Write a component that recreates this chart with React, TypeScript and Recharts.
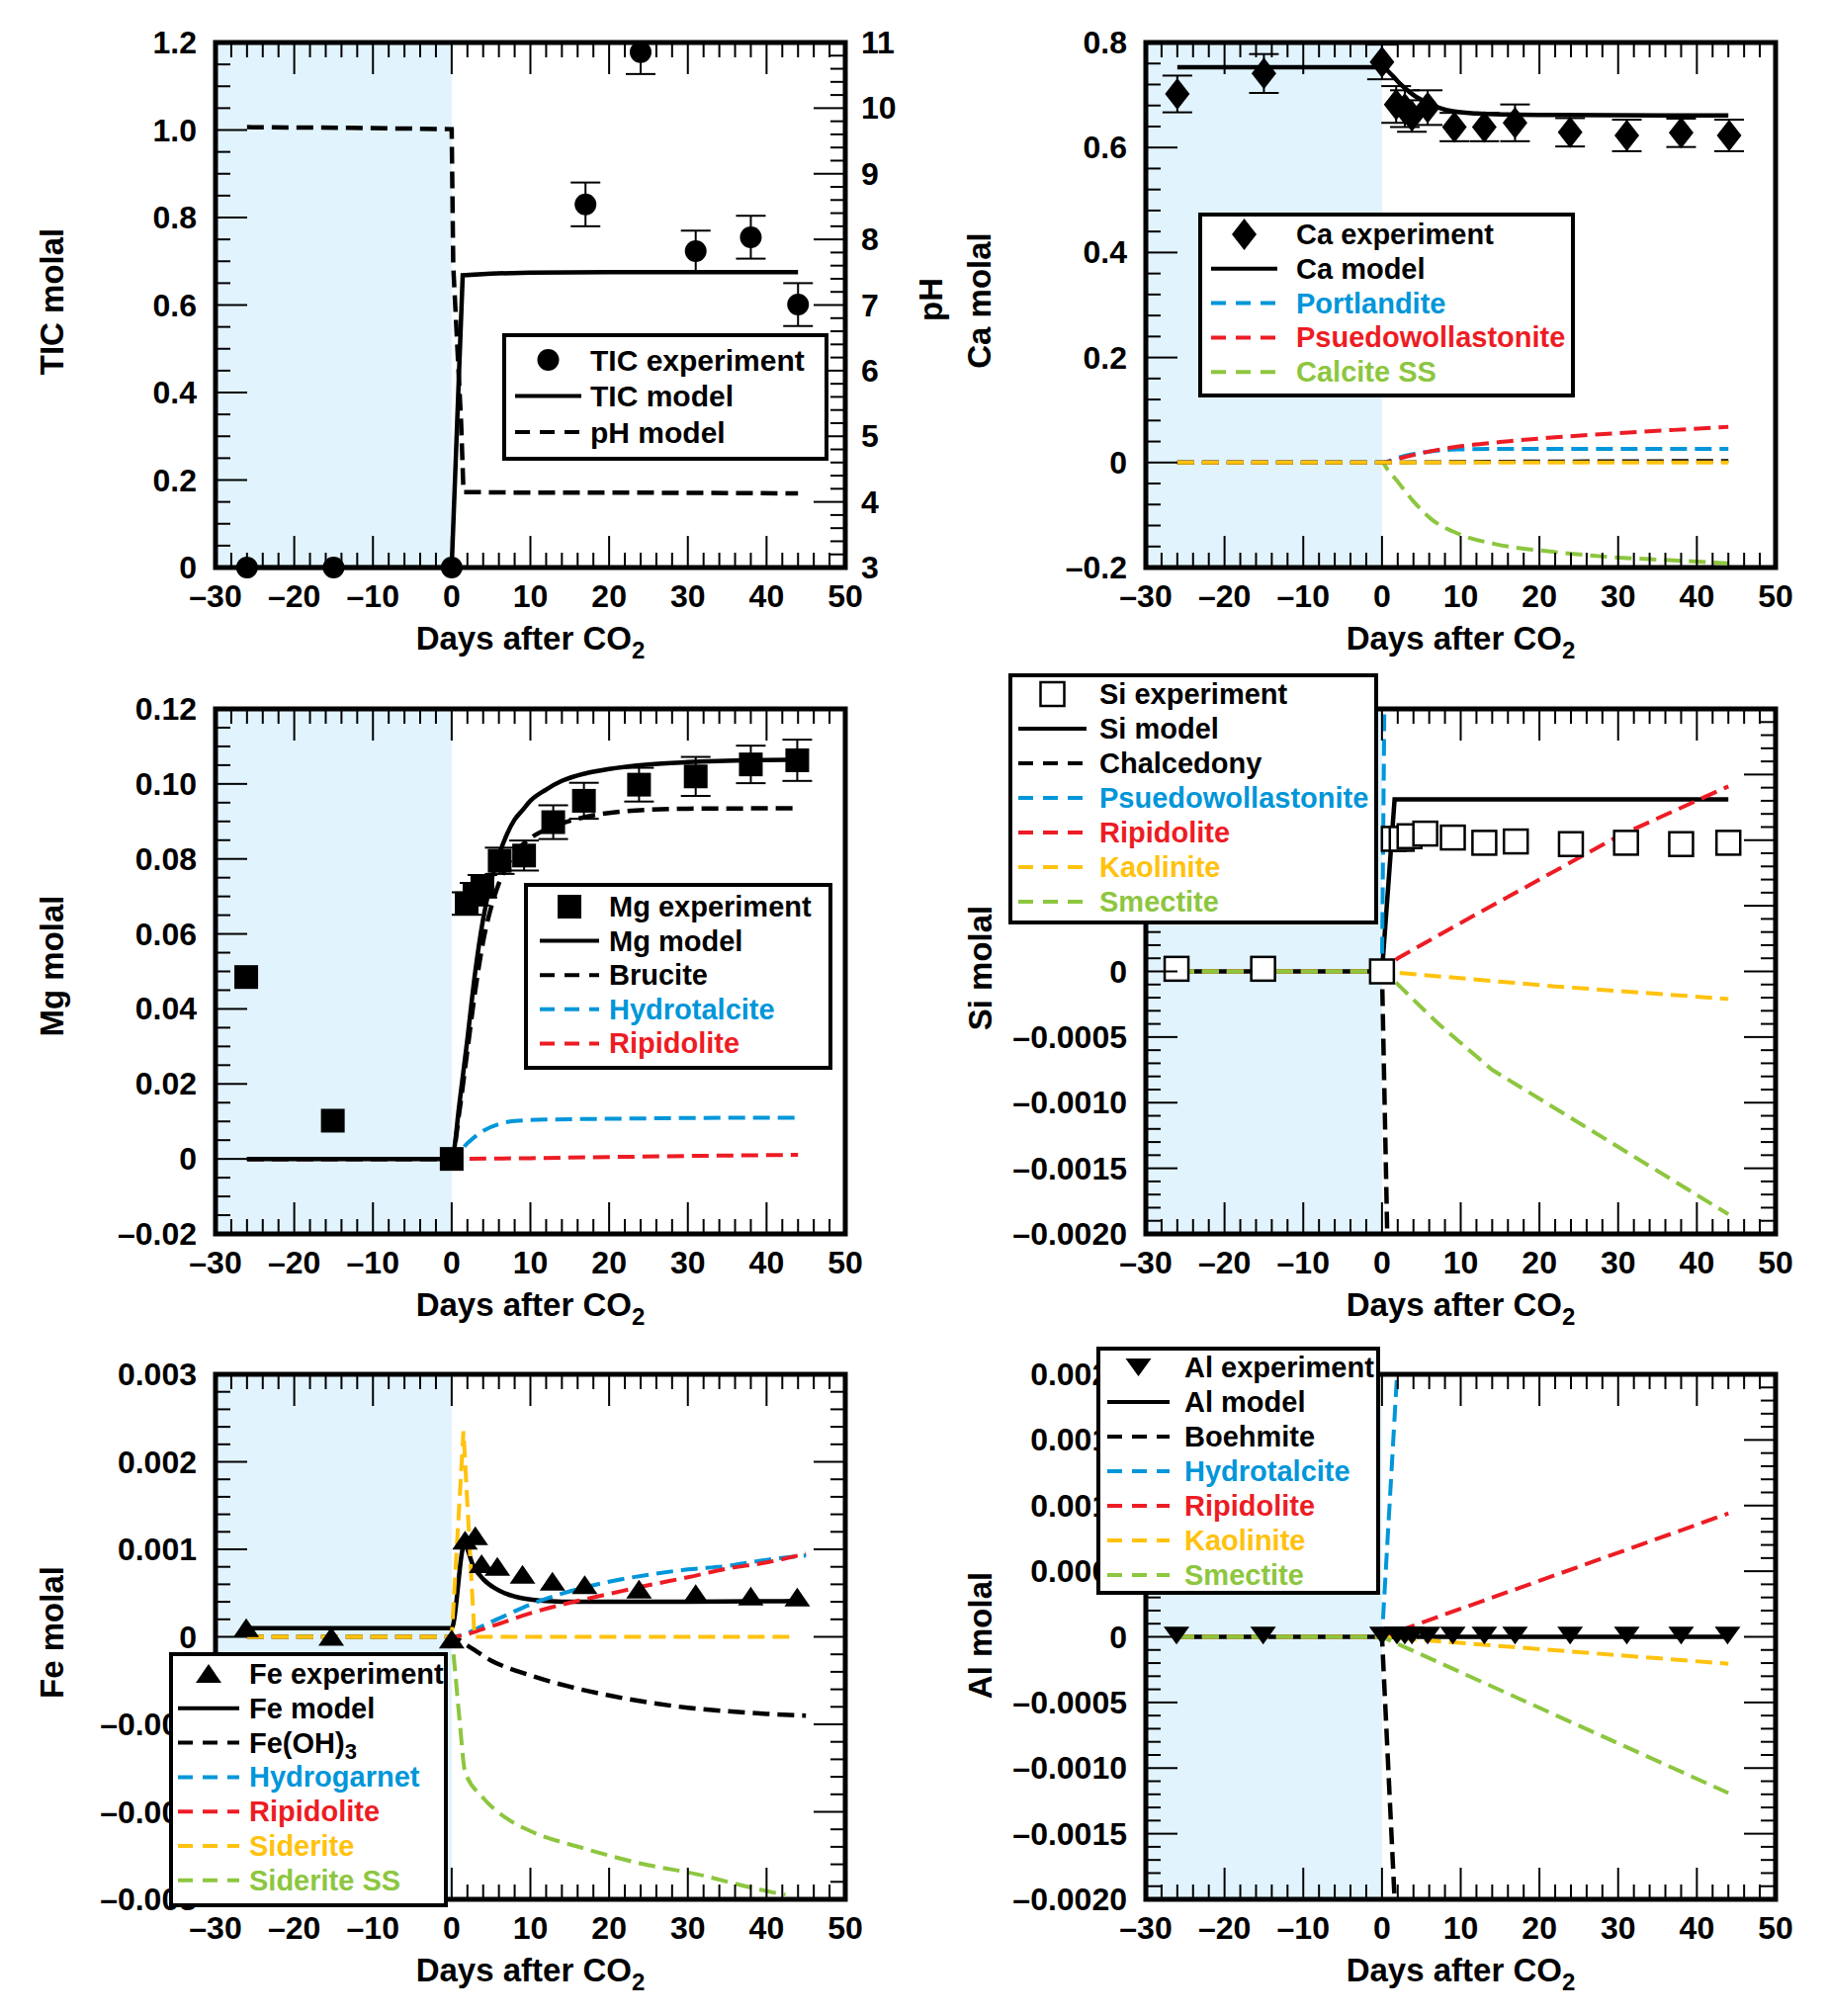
import React from "react";
import { ComposedChart, Line, Scatter, XAxis, YAxis, ReferenceArea, ErrorBar } from "recharts";

const FONT = '"Liberation Sans", Arial, Helvetica, sans-serif';
const BLUE = "#0096d9";
const RED = "#ed1c24";
const YELLOW = "#ffc20e";
const GREEN = "#8dc63f";
const SHADE = "#e1f3fc";

type Pt = { x: number; y: number };
type XP = { x: number; y: number; e: number | number[] };
const pts = (a: number[][]): Pt[] => a.map(([x, y]) => ({ x, y }));
const xps = (a: any[][]): XP[] => a.map(([x, y, e]) => ({ x, y, e }));

// ---- x axis (days after CO2) ----
const dayMajor = [-30, -20, -10, 0, 10, 20, 30, 40, 50];
const dayLabels = ["–30", "–20", "–10", "0", "10", "20", "30", "40", "50"];

// ---- TIC / pH ----
const ticMajor = [0, 0.2, 0.4, 0.6, 0.8, 1.0, 1.2];
const ticLabels = ["0", "0.2", "0.4", "0.6", "0.8", "1.0", "1.2"];
const phMajor = [3, 4, 5, 6, 7, 8, 9, 10, 11];
const phLabels = ["3", "4", "5", "6", "7", "8", "9", "10", "11"];
const ticExp = xps([
  [-26, 0, 0], [-15, 0, 0], [0, 0, 0], [17, 0.83, 0.05], [24, 1.178, [0.05, 0.022]],
  [31, 0.723, 0.047], [38, 0.755, 0.049], [44, 0.601, 0.049],
]);
const ticModel = pts([[-26, 0], [0, 0], [1.4, 0.668], [5, 0.672], [10, 0.674], [20, 0.675], [44, 0.675]]);
const phModel = pts([[-26, 9.71], [-13, 9.7], [0, 9.68], [0.2, 7.6], [1.2, 5.2], [1.5, 4.15], [10, 4.14], [25, 4.14], [44, 4.13]]);

// ---- Ca ----
const caMajor = [-0.2, 0, 0.2, 0.4, 0.6, 0.8];
const caLabels = ["–0.2", "0", "0.2", "0.4", "0.6", "0.8"];
const caExp = xps([
  [-26, 0.702, 0.035], [-15, 0.741, 0.037], [0, 0.763, 0.033], [1.8, 0.682, 0.035], [2.9, 0.674, 0.035],
  [3.8, 0.66, 0.03], [5.8, 0.676, 0.033], [9.2, 0.639, 0.027], [13, 0.639, 0.027], [16.9, 0.647, 0.035],
  [23.9, 0.629, 0.027], [31.1, 0.623, 0.03], [38, 0.628, 0.027], [44.1, 0.623, 0.03],
]);
const caModel = pts([[-26, 0.753], [0, 0.753], [1, 0.742], [2, 0.726], [3, 0.712], [4, 0.7], [5.5, 0.687], [7, 0.677], [9, 0.669], [12, 0.665], [16, 0.663], [22, 0.662], [44, 0.661]]);
const caPortlandite = pts([[-26, 0], [0, 0], [2, 0.009], [4, 0.016], [6, 0.021], [8, 0.024], [10, 0.025], [15, 0.026], [44, 0.026]]);
const caPsuedo = pts([[-26, 0], [0, 0], [3, 0.011], [6, 0.021], [10, 0.031], [15, 0.039], [22, 0.048], [30, 0.056], [37, 0.062], [44, 0.068]]);
const caCalciteSS = pts([[-26, 0], [0, 0], [0.7, -0.013], [1.8, -0.033], [4, -0.074], [6.2, -0.107], [9.9, -0.137], [14.3, -0.155], [21.7, -0.17], [29, -0.18], [36.5, -0.186], [44, -0.192]]);
const caBlack = pts([[-26, 0], [0, 0], [20, 0.002], [44, 0.003]]);
const caYellow = pts([[-26, 0], [0, 0], [44, 0]]);

// ---- Mg ----
const mgMajor = [-0.02, 0, 0.02, 0.04, 0.06, 0.08, 0.1, 0.12];
const mgLabels = ["–0.02", "0", "0.02", "0.04", "0.06", "0.08", "0.10", "0.12"];
const mgExp = xps([
  [-26.1, 0.0485, 0], [-15.1, 0.0102, 0], [0, 0, 0], [1.9, 0.0681, 0.003], [2.9, 0.0706, 0.003],
  [3.9, 0.0727, 0.003], [6.1, 0.0795, 0.0035], [9.2, 0.0809, 0.004], [12.9, 0.0898, 0.0045],
  [16.8, 0.0955, 0.0048], [23.8, 0.0998, 0.0045], [31, 0.102, 0.0052], [38, 0.1052, 0.005], [43.9, 0.1063, 0.0055],
]);
const mgModel = pts([[-26, 0], [0, 0], [1, 0.015], [2, 0.032], [3, 0.05], [4, 0.064], [5, 0.074], [6, 0.081], [7, 0.0865], [8, 0.0905], [9, 0.093], [10, 0.0955], [12, 0.0985], [14, 0.1008], [17, 0.1028], [20, 0.104], [25, 0.1052], [30, 0.1058], [44, 0.1065]]);
const mgBrucite = pts([[-26, 0], [0, 0], [1, 0.013], [2, 0.029], [3, 0.045], [4, 0.058], [5, 0.067], [6, 0.0735], [7, 0.078], [8, 0.0815], [10, 0.0855], [13, 0.0887], [17, 0.0912], [22, 0.0927], [30, 0.0934], [44, 0.0935]]);
const mgHydrotalcite = pts([[-26, 0], [0, 0], [2, 0.0042], [4, 0.0075], [6, 0.0093], [8, 0.0101], [12, 0.0105], [20, 0.0107], [30, 0.0109], [44, 0.011]]);
const mgRipidolite = pts([[-26, 0], [0, 0], [10, 0.0002], [20, 0.0005], [30, 0.0008], [44, 0.0011]]);

// ---- Si ----
const siMajor = [-0.002, -0.0015, -0.001, -0.0005, 0, 0.0005, 0.001, 0.0015, 0.002];
// the positive labels sit fully under the legend box in the original, so only the visible ones are written
const siLabels = ["–0.0020", "–0.0015", "–0.0010", "–0.0005", "0", "", "", "", ""];
const siExp = xps([
  [-26.1, 0.00002, 0], [-15.1, 0.00002, 0], [0, 0, 0], [1.5, 0.00101, 0], [2.5, 0.00101, 0], [3.5, 0.00103, 0],
  [5.5, 0.00105, 0], [9, 0.00102, 0], [13, 0.00098, 0], [17, 0.00099, 0], [24, 0.00097, 0], [31, 0.00098, 0],
  [38, 0.00097, 0], [44, 0.00098, 0],
]);
const siModel = pts([[-26, 0], [0, 0], [1.6, 0.00131], [44, 0.00131]]);
const siChalcedony = pts([[-26, 0], [0, 0], [1, -0.003]]);
const siPsuedo = pts([[-26, 0], [0, 0], [0.45, 0.003]]);
const siRipidolite = pts([[-26, 0], [0, 0], [2, 0.0001], [10, 0.00037], [20, 0.0007], [30, 0.00103], [44, 0.00141]]);
const siKaolinite = pts([[-26, 0], [0, 0], [22, -0.000114], [44, -0.00021]]);
const siSmectite = pts([[-26, 0], [0, 0], [1, -0.00004], [7, -0.00039], [14, -0.00075], [44, -0.00185]]);

// ---- Fe ----
const feMajor = [-0.003, -0.002, -0.001, 0, 0.001, 0.002, 0.003];
const feLabels = ["–0.003", "–0.002", "–0.001", "0", "0.001", "0.002", "0.003"];
const feExp = xps([
  [-26.1, 0.0001, 0], [-15.3, 0, 0], [0, -0.00003, 0], [1.7, 0.0011, 0], [3, 0.00115, 0], [3.8, 0.00083, 0],
  [5.8, 0.0008, 0], [9, 0.00071, 0], [12.8, 0.00063, 0], [16.9, 0.00059, 0], [23.8, 0.00054, 0], [31, 0.00049, 0],
  [38, 0.00046, 0], [43.9, 0.00045, 0],
]);
const feModel = pts([[-26, 0.0001], [0, 0.0001], [1.6, 0.00105], [2.8, 0.0008], [4, 0.00066], [5.4, 0.00056], [7, 0.00049], [9, 0.00044], [12, 0.00041], [16, 0.0004], [30, 0.0004], [44, 0.00041]]);
const feOH3 = pts([[-26, 0], [0, 0], [2, -0.0001], [5, -0.00027], [10, -0.00044], [15, -0.00057], [20, -0.00067], [25, -0.00075], [30, -0.00081], [35, -0.00085], [40, -0.00088], [45, -0.0009]]);
const feHydrogarnet = pts([[-26, 0], [0, 0], [5, 0.00017], [10, 0.00037], [15, 0.00052], [20, 0.00063], [25, 0.00071], [30, 0.00077], [35, 0.00081], [40, 0.00088], [45, 0.00093]]);
const feRipidolite = pts([[-26, 0], [0, 0], [5, 0.00012], [10, 0.00027], [15, 0.00039], [20, 0.00049], [25, 0.00059], [30, 0.00068], [35, 0.00078], [40, 0.00085], [45, 0.00095]]);
const feSiderite = pts([[-26, 0], [0, 0], [1.5, 0.00235], [2.9, 0], [43, 0]]);
const feSideriteSS = pts([[-26, 0], [0, 0], [0.2, -0.00017], [1, -0.00095], [1.7, -0.00154], [3.9, -0.00183], [6.9, -0.00207], [10, -0.00222], [16.5, -0.00241], [24, -0.00259], [31, -0.00271], [38.7, -0.00288], [42.4, -0.00295]]);

// ---- Al ----
const alMajor = [-0.002, -0.0015, -0.001, -0.0005, 0, 0.0005, 0.001, 0.0015, 0.002];
const alLabels = ["–0.0020", "–0.0015", "–0.0010", "–0.0005", "0", "0.0005", "0.0010", "0.0015", "0.0020"];
const alExp = xps([
  [-26.1, 0.00001, 0], [-15.1, 0.00001, 0], [0, 0.00001, 0], [1.9, 0.00001, 0], [2.9, 0.00001, 0], [3.8, 0.00001, 0],
  [5.8, 0.00001, 0], [9, 0.00001, 0], [13, 0.00001, 0], [16.9, 0.00001, 0], [23.9, 0.00001, 0], [31.1, 0.00001, 0],
  [38, 0.00001, 0], [43.9, 0.00001, 0],
]);
const alModel = pts([[-26, 0], [44, 0]]);
const alBoehmite = pts([[-26, 0], [0, 0], [2, -0.0025]]);
const alHydrotalcite = pts([[-26, 0], [0, 0], [2.2, 0.0023]]);
const alRipidolite = pts([[-26, 0], [0, 0], [44, 0.00094]]);
const alKaolinite = pts([[-26, 0], [0, 0], [44, -0.000205]]);
const alSmectite = pts([[-26, 0], [0, 0], [44, -0.00119]]);

// ---------------------------------------------------------------
const PW = 637, PH = 531;
// plot area sits 180px from the chart's left edge and 40px from its top (1px axis + margin)
const ML = 179, MT = 39, MR = 79, MB = 109;
const OFF_L = 180, OFF_T = 40;
const CW = PW + 180 + 80, CH = PH + 40 + 110;
const DASH = "17 8";

function steps(from: number, to: number, step: number) {
  const n = Math.round((to - from) / step);
  return Array.from({ length: n + 1 }, (_, i) => Number((from + i * step).toFixed(8)));
}
const dayTicks = steps(-30, 50, 2);

type Side = "left" | "right" | "top" | "bottom";
function tickRenderer(side: Side, major: number[], labels: string[] | null) {
  return (p: any) => {
    const v = Number(p.payload?.value);
    const idx = major.findIndex((m) => Math.abs(m - v) < 1e-9);
    const big = idx >= 0;
    const { x, y } = p;
    const len = big ? 32 : 15;
    let x2 = x, y2 = y, tx = x, ty = y, anchor = "middle";
    if (side === "left") { x2 = x + len; tx = x - 19; anchor = "end"; }
    if (side === "right") { x2 = x - len; tx = x + 16; anchor = "start"; }
    if (side === "bottom") { y2 = y - len; ty = y + 29; }
    if (side === "top") { y2 = y + len; }
    const lab = big && labels && labels[idx] ? labels[idx] : null;
    return (
      <g>
        <line x1={x} y1={y} x2={x2} y2={y2} stroke="#000" strokeWidth={2} />
        {lab !== null && (
          <text x={tx} y={ty} textAnchor={anchor} dominantBaseline="central" fontFamily={FONT} fontWeight={700} fontSize={32} fill="#000">
            {lab}
          </text>
        )}
      </g>
    );
  };
}

type MarkerKind = "circle" | "diamond" | "square" | "openSquare" | "triangle" | "triangleDown";
function drawMarker(kind: MarkerKind, cx: number, cy: number) {
  switch (kind) {
    case "circle":
      return <circle cx={cx} cy={cy} r={11} fill="#000" />;
    case "diamond":
      return <path d={`M${cx},${cy - 16}L${cx + 12.5},${cy}L${cx},${cy + 16}L${cx - 12.5},${cy}Z`} fill="#000" />;
    case "square":
      return <rect x={cx - 12} y={cy - 12} width={24} height={24} fill="#000" />;
    case "openSquare":
      return <rect x={cx - 12} y={cy - 12} width={24} height={24} fill="#fff" stroke="#000" strokeWidth={2.5} />;
    case "triangle":
      return <path d={`M${cx},${cy - 10}L${cx + 13},${cy + 9}L${cx - 13},${cy + 9}Z`} fill="#000" />;
    default:
      return <path d={`M${cx - 13},${cy - 9}L${cx + 13},${cy - 9}L${cx},${cy + 9}Z`} fill="#000" />;
  }
}

type AxisCfg = { domain: [number, number]; major: number[]; labels: string[] | null; minor: number };
type LineCfg = { data: Pt[]; color: string; dash?: boolean; w?: number; curve?: "linear" | "monotone"; right?: boolean };
type PanelCfg = {
  left: number; top: number; y: AxisCfg; y2?: AxisCfg; clip: boolean;
  lines: LineCfg[]; exp: XP[]; marker: MarkerKind; err: boolean;
};

function Panel({ c }: { c: PanelCfg }) {
  const y2 = c.y2 ?? { ...c.y, labels: null };
  const yTicks = steps(c.y.domain[0], c.y.domain[1], c.y.minor);
  const y2Ticks = steps(y2.domain[0], y2.domain[1], y2.minor);
  return (
    <div style={{ position: "absolute", left: c.left - OFF_L, top: c.top - OFF_T }}>
      <ComposedChart width={CW} height={CH} margin={{ top: MT, right: MR, bottom: MB, left: ML }}>
        <ReferenceArea xAxisId="b" yAxisId="l" x1={-30} x2={0} y1={c.y.domain[0]} y2={c.y.domain[1]} fill={SHADE} fillOpacity={1} stroke="none" ifOverflow="visible" />
        <XAxis xAxisId="b" type="number" dataKey="x" domain={[-30, 50]} allowDataOverflow ticks={dayTicks} interval={0}
          height={1} tickSize={0} tickMargin={0} axisLine={false} tickLine={false} tick={tickRenderer("bottom", dayMajor, dayLabels)} />
        <XAxis xAxisId="t" orientation="top" type="number" dataKey="x" domain={[-30, 50]} allowDataOverflow ticks={dayTicks} interval={0}
          height={1} tickSize={0} tickMargin={0} axisLine={false} tickLine={false} tick={tickRenderer("top", dayMajor, null)} />
        <YAxis yAxisId="l" type="number" domain={c.y.domain} allowDataOverflow={c.clip} ticks={yTicks} interval={0}
          width={1} tickSize={0} tickMargin={0} axisLine={false} tickLine={false} tick={tickRenderer("left", c.y.major, c.y.labels)} />
        <YAxis yAxisId="r" orientation="right" type="number" domain={y2.domain} allowDataOverflow={c.clip} ticks={y2Ticks} interval={0}
          width={1} tickSize={0} tickMargin={0} axisLine={false} tickLine={false} tick={tickRenderer("right", y2.major, y2.labels)} />
        {c.lines.map((l, i) => (
          <Line key={i} data={l.data} dataKey="y" xAxisId="b" yAxisId={l.right ? "r" : "l"} type={l.curve ?? "linear"}
            stroke={l.color} strokeWidth={l.w ?? 4} strokeDasharray={l.dash ? DASH : undefined}
            dot={false} activeDot={false} isAnimationActive={false} />
        ))}
        <Scatter data={c.exp} dataKey="y" xAxisId="b" yAxisId="l" isAnimationActive={false}
          shape={(p: any) => drawMarker(c.marker, p.cx, p.cy)}>
          {c.err && <ErrorBar dataKey="e" direction="y" width={15} stroke="#000" strokeWidth={2} />}
        </Scatter>
        <ReferenceArea xAxisId="b" yAxisId="l" x1={-30} x2={50} y1={c.y.domain[0]} y2={c.y.domain[1]} fill="none" stroke="#000" strokeWidth={5} ifOverflow="visible" />
      </ComposedChart>
    </div>
  );
}

type LegItem = { label: React.ReactNode; kind: "mark" | "solid" | "dash"; color: string };
type LegBox = { x: number; y: number; w: number; h: number; r0: number; gap: number; l1: number; l2: number; tx: number; fs: number };

function LegendBox({ b, items, marker }: { b: LegBox; items: LegItem[]; marker: MarkerKind }) {
  return (
    <svg style={{ position: "absolute", left: b.x, top: b.y }} width={b.w} height={b.h}>
      <rect x={2} y={2} width={b.w - 4} height={b.h - 4} fill="#fff" stroke="#000" strokeWidth={4} />
      {items.map((it, i) => {
        const cy = b.r0 + i * b.gap;
        return (
          <g key={i}>
            {it.kind === "mark" ? (
              drawMarker(marker, (b.l1 + b.l2) / 2, cy)
            ) : (
              <line x1={b.l1} x2={b.l2} y1={cy} y2={cy} stroke={it.color} strokeWidth={4}
                strokeDasharray={it.kind === "dash" ? "15 10" : undefined} />
            )}
            <text x={b.tx} y={cy} dominantBaseline="central" fontFamily={FONT} fontWeight={700} fontSize={b.fs} fill={it.color}>
              {it.label}
            </text>
          </g>
        );
      })}
    </svg>
  );
}

function VTitle({ cx, cy, text }: { cx: number; cy: number; text: string }) {
  return (
    <div style={{
      position: "absolute", left: cx, top: cy, transform: "translate(-50%,-50%) rotate(-90deg)",
      whiteSpace: "nowrap", fontFamily: FONT, fontWeight: 700, fontSize: 33, lineHeight: 1,
    }}>{text}</div>
  );
}

function XTitle({ cx, cy }: { cx: number; cy: number }) {
  return (
    <div style={{
      position: "absolute", left: cx, top: cy, transform: "translate(-50%,-50%)",
      whiteSpace: "nowrap", fontFamily: FONT, fontWeight: 700, fontSize: 33, lineHeight: 1,
    }}>
      Days after CO<span style={{ fontSize: 24, position: "relative", top: 9 }}>2</span>
    </div>
  );
}

const LX = 218, RX = 1159;
const TOPS = [43, 717, 1390];

const panels: PanelCfg[] = [
  {
    left: LX, top: TOPS[0], clip: false, marker: "circle", err: true, exp: ticExp,
    y: { domain: [0, 1.2], major: ticMajor, labels: ticLabels, minor: 0.05 },
    y2: { domain: [3, 11], major: phMajor, labels: phLabels, minor: 0.2 },
    lines: [
      { data: ticModel, color: "#000", w: 4.5 },
      { data: phModel, color: "#000", w: 4.5, dash: true, right: true },
    ],
  },
  {
    left: RX, top: TOPS[0], clip: false, marker: "diamond", err: true, exp: caExp,
    y: { domain: [-0.2, 0.8], major: caMajor, labels: caLabels, minor: 0.04 },
    lines: [
      { data: caModel, color: "#000", w: 4.5, curve: "monotone" },
      { data: caCalciteSS, color: GREEN, dash: true, curve: "monotone" },
      { data: caPortlandite, color: BLUE, dash: true, curve: "monotone" },
      { data: caPsuedo, color: RED, dash: true, curve: "monotone" },
      { data: caBlack, color: "#000", dash: true },
      { data: caYellow, color: YELLOW, dash: true },
    ],
  },
  {
    left: LX, top: TOPS[1], clip: false, marker: "square", err: true, exp: mgExp,
    y: { domain: [-0.02, 0.12], major: mgMajor, labels: mgLabels, minor: 0.005 },
    lines: [
      { data: mgHydrotalcite, color: BLUE, dash: true, curve: "monotone" },
      { data: mgBrucite, color: "#000", w: 4.5, dash: true, curve: "monotone" },
      { data: mgRipidolite, color: RED, dash: true },
      { data: mgModel, color: "#000", w: 4.5, curve: "monotone" },
    ],
  },
  {
    left: RX, top: TOPS[1], clip: true, marker: "openSquare", err: false, exp: siExp,
    y: { domain: [-0.002, 0.002], major: siMajor, labels: siLabels, minor: 0.0001 },
    lines: [
      { data: siModel, color: "#000", w: 4.5 },
      { data: siChalcedony, color: "#000", w: 4.5, dash: true },
      { data: siPsuedo, color: BLUE, dash: true },
      { data: siRipidolite, color: RED, dash: true },
      { data: siKaolinite, color: YELLOW, dash: true },
      { data: siSmectite, color: GREEN, dash: true },
    ],
  },
  {
    left: LX, top: TOPS[2], clip: true, marker: "triangle", err: false, exp: feExp,
    y: { domain: [-0.003, 0.003], major: feMajor, labels: feLabels, minor: 0.0002 },
    lines: [
      { data: feModel, color: "#000", w: 4.5, curve: "monotone" },
      { data: feOH3, color: "#000", w: 4.5, dash: true, curve: "monotone" },
      { data: feHydrogarnet, color: BLUE, dash: true, curve: "monotone" },
      { data: feRipidolite, color: RED, dash: true, curve: "monotone" },
      { data: feSideriteSS, color: GREEN, dash: true, curve: "monotone" },
      { data: feSiderite, color: YELLOW, dash: true },
    ],
  },
  {
    left: RX, top: TOPS[2], clip: true, marker: "triangleDown", err: false, exp: alExp,
    y: { domain: [-0.002, 0.002], major: alMajor, labels: alLabels, minor: 0.0001 },
    lines: [
      { data: alModel, color: "#000", w: 4.5 },
      { data: alBoehmite, color: "#000", w: 4.5, dash: true },
      { data: alHydrotalcite, color: BLUE, dash: true },
      { data: alRipidolite, color: RED, dash: true },
      { data: alKaolinite, color: YELLOW, dash: true },
      { data: alSmectite, color: GREEN, dash: true },
    ],
  },
];

export default function App() {
  return (
    <div style={{ position: "absolute", left: 0, top: 0, width: 1848, height: 2039, background: "#fff", overflow: "hidden" }}>
      {panels.map((c, i) => <Panel key={i} c={c} />)}

      <VTitle cx={52} cy={305} text="TIC molal" />
      <VTitle cx={941} cy={303} text="pH" />
      <VTitle cx={990} cy={304} text="Ca molal" />
      <VTitle cx={52} cy={977} text="Mg molal" />
      <VTitle cx={991} cy={979} text="Si molal" />
      <VTitle cx={52} cy={1651} text="Fe molal" />
      <VTitle cx={991} cy={1654} text="Al molal" />
      {TOPS.map((t) => (
        <React.Fragment key={t}>
          <XTitle cx={LX + PW / 2} cy={t + PH + 71} />
          <XTitle cx={RX + PW / 2} cy={t + PH + 71} />
        </React.Fragment>
      ))}

      <LegendBox marker="circle" b={{ x: 508, y: 337, w: 330, h: 129, r0: 27, gap: 36.5, l1: 13, l2: 80, tx: 89, fs: 30 }} items={[
        { label: "TIC experiment", kind: "mark", color: "#000" },
        { label: "TIC model", kind: "solid", color: "#000" },
        { label: "pH model", kind: "dash", color: "#000" },
      ]} />
      <LegendBox marker="diamond" b={{ x: 1212, y: 215, w: 381, h: 187, r0: 22, gap: 34.8, l1: 13, l2: 80, tx: 99, fs: 29 }} items={[
        { label: "Ca experiment", kind: "mark", color: "#000" },
        { label: "Ca model", kind: "solid", color: "#000" },
        { label: "Portlandite", kind: "dash", color: BLUE },
        { label: "Psuedowollastonite", kind: "dash", color: RED },
        { label: "Calcite SS", kind: "dash", color: GREEN },
      ]} />
      <LegendBox marker="square" b={{ x: 530, y: 893, w: 312, h: 189, r0: 24, gap: 34.6, l1: 16, l2: 76, tx: 86, fs: 29 }} items={[
        { label: "Mg experiment", kind: "mark", color: "#000" },
        { label: "Mg model", kind: "solid", color: "#000" },
        { label: "Brucite", kind: "dash", color: "#000" },
        { label: "Hydrotalcite", kind: "dash", color: BLUE },
        { label: "Ripidolite", kind: "dash", color: RED },
      ]} />
      <LegendBox marker="openSquare" b={{ x: 1020, y: 681, w: 374, h: 254, r0: 21, gap: 35, l1: 10, l2: 79, tx: 92, fs: 29 }} items={[
        { label: "Si experiment", kind: "mark", color: "#000" },
        { label: "Si model", kind: "solid", color: "#000" },
        { label: "Chalcedony", kind: "dash", color: "#000" },
        { label: "Psuedowollastonite", kind: "dash", color: BLUE },
        { label: "Ripidolite", kind: "dash", color: RED },
        { label: "Kaolinite", kind: "dash", color: YELLOW },
        { label: "Smectite", kind: "dash", color: GREEN },
      ]} />
      <LegendBox marker="triangle" b={{ x: 171, y: 1671, w: 282, h: 258, r0: 22, gap: 34.8, l1: 9, l2: 71, tx: 81, fs: 29 }} items={[
        { label: "Fe experiment", kind: "mark", color: "#000" },
        { label: "Fe model", kind: "solid", color: "#000" },
        { label: <>Fe(OH)<tspan dy={8} fontSize={22}>3</tspan></>, kind: "dash", color: "#000" },
        { label: "Hydrogarnet", kind: "dash", color: BLUE },
        { label: "Ripidolite", kind: "dash", color: RED },
        { label: "Siderite", kind: "dash", color: YELLOW },
        { label: "Siderite SS", kind: "dash", color: GREEN },
      ]} />
      <LegendBox marker="triangleDown" b={{ x: 1109, y: 1362, w: 287, h: 251, r0: 21, gap: 35, l1: 11, l2: 74, tx: 89, fs: 29 }} items={[
        { label: "Al experiment", kind: "mark", color: "#000" },
        { label: "Al model", kind: "solid", color: "#000" },
        { label: "Boehmite", kind: "dash", color: "#000" },
        { label: "Hydrotalcite", kind: "dash", color: BLUE },
        { label: "Ripidolite", kind: "dash", color: RED },
        { label: "Kaolinite", kind: "dash", color: YELLOW },
        { label: "Smectite", kind: "dash", color: GREEN },
      ]} />
    </div>
  );
}
